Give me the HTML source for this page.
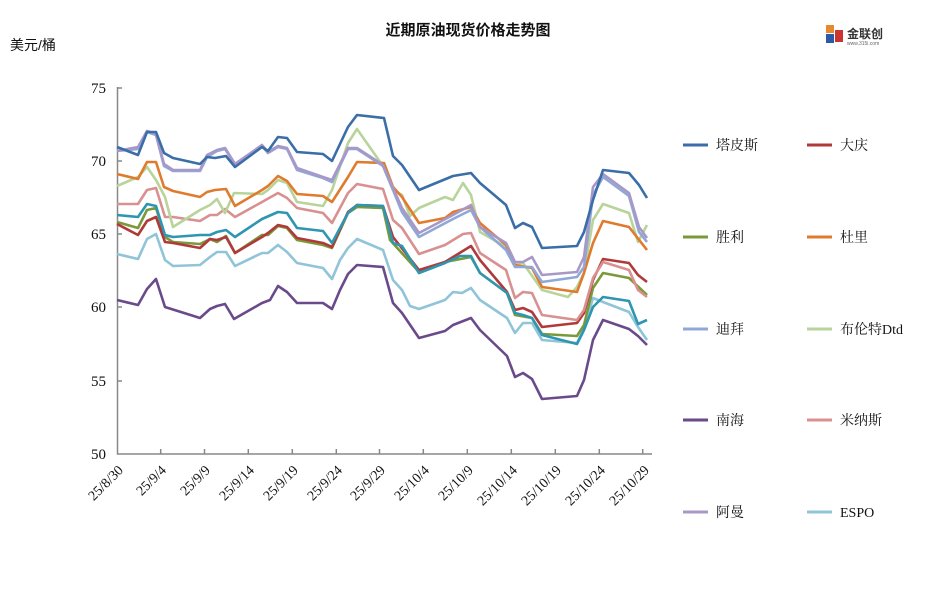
<!DOCTYPE html>
<html><head><meta charset="utf-8"><style>
html,body{margin:0;padding:0;background:#fff;}
svg{display:block;font-family:"Liberation Sans","Noto Sans CJK SC",sans-serif;}
.sf{font-family:"Liberation Serif","Noto Serif CJK SC",serif;}
</style></head><body>
<svg width="937" height="601" viewBox="0 0 937 601" xmlns="http://www.w3.org/2000/svg">
<rect width="937" height="601" fill="#fff"/>
<text x="468" y="35" text-anchor="middle" font-size="15" font-weight="bold" fill="#111">近期原油现货价格走势图</text>
<text x="10" y="50" font-size="14" fill="#111">美元/桶</text>
<g>
<rect x="826" y="25" width="8" height="8" fill="#e8892c"/>
<rect x="826" y="34" width="8" height="9" fill="#2b5aa8"/>
<rect x="835" y="30" width="8" height="12" fill="#c33"/>
<text x="847" y="38" font-size="12" font-weight="bold" fill="#333">金联创</text>
<text x="847" y="45" font-size="5" fill="#666">www.315i.com</text>
</g>
<g stroke="#888" stroke-width="1.5" fill="none">
<path d="M117.5 87 V454 H652"/>
<path d="M117 88 h5 M117 161 h5 M117 234 h5 M117 307 h5 M117 381 h5"/>
<path d="M160.7 454 v-5 M204.5 454 v-5 M248.3 454 v-5 M292.3 454 v-5 M336.3 454 v-5 M379.5 454 v-5 M423.3 454 v-5 M467.3 454 v-5 M511.3 454 v-5 M555.3 454 v-5 M599.3 454 v-5 M642.7 454 v-5"/>
</g>
<g class="sf" font-size="15" fill="#111" text-anchor="end">
<text x="106" y="93">75</text><text x="106" y="166">70</text><text x="106" y="239">65</text>
<text x="106" y="312">60</text><text x="106" y="386">55</text><text x="106" y="459">50</text>
</g>
<g class="sf" font-size="14" fill="#111" text-anchor="end">
<text transform="translate(124,471) rotate(-45)">25/8/30</text>
<text transform="translate(167,471) rotate(-45)">25/9/4</text>
<text transform="translate(211,471) rotate(-45)">25/9/9</text>
<text transform="translate(255,471) rotate(-45)">25/9/14</text>
<text transform="translate(299,471) rotate(-45)">25/9/19</text>
<text transform="translate(343,471) rotate(-45)">25/9/24</text>
<text transform="translate(386,471) rotate(-45)">25/9/29</text>
<text transform="translate(430,471) rotate(-45)">25/10/4</text>
<text transform="translate(474,471) rotate(-45)">25/10/9</text>
<text transform="translate(518,471) rotate(-45)">25/10/14</text>
<text transform="translate(562,471) rotate(-45)">25/10/19</text>
<text transform="translate(606,471) rotate(-45)">25/10/24</text>
<text transform="translate(650,471) rotate(-45)">25/10/29</text>
</g>
<g fill="none" stroke-width="2.6" stroke-linejoin="round">
<polyline stroke="#6a4a8a" points="117,300 138,305 147,289 156,279 165,307 200,318 210,309 217,306 225,304 234,319 262,303 270,300 278,286 287,292 297,303 323,303 332,309 340,290 348,274 357,265 383,267 393,303 402,313 419,338 445,331 453,325 471,318 480,330 507,356 515,377 523,373 532,379 542,399 577,396 584,380 593,340 603,320 629,329 638,336 647,345"/>
<polyline stroke="#90c4d8" points="117,254 138,259 147,239 156,234 165,260 173,266 200,265 210,257 217,252 226,252 235,266 262,253 268,253 278,245 287,252 297,263 323,268 332,279 340,260 348,248 357,239 383,250 393,280 402,290 410,306 419,309 445,300 453,292 462,293 471,288 480,300 507,318 515,333 523,323 532,323 542,340 577,343 584,329 593,298 603,302 629,312 638,327 647,340"/>
<polyline stroke="#7a9a3a" points="117,222 138,228 147,210 156,208 165,237 173,242 200,244 210,239 217,242 226,236 235,253 262,235 268,235 278,226 287,228 297,240 323,245 332,248 348,213 357,207 383,208 390,240 419,272 445,262 471,257 480,273 507,293 515,315 532,318 542,334 577,336 584,325 593,288 603,273 629,278 647,295"/>
<polyline stroke="#b03a3a" points="117,224 138,235 147,221 156,217 165,242 173,243 200,248 210,239 217,240 226,237 235,253 262,237 268,233 278,225 287,227 297,238 323,243 332,247 348,212 357,205 383,206 393,237 419,270 445,262 471,246 480,260 507,292 515,310 523,308 532,312 542,327 577,323 584,313 593,280 603,259 629,263 638,275 647,282"/>
<polyline stroke="#2e96b0" points="117,215 138,217 147,204 156,206 165,235 173,237 200,235 210,235 217,232 226,230 235,237 262,219 278,212 287,213 297,228 323,231 332,243 348,213 357,205 383,206 393,243 402,246 419,273 445,263 460,256 471,256 480,273 507,293 515,313 523,315 532,318 542,335 577,344 584,330 593,307 603,297 629,301 638,324 647,320"/>
<polyline stroke="#d99090" points="117,204 138,204 147,190 156,188 165,217 173,217 200,221 210,215 217,215 225,209 235,217 262,202 278,193 287,198 297,208 323,213 332,223 348,193 357,184 383,189 393,220 402,228 419,254 445,245 463,234 471,233 480,253 506,270 515,298 523,292 532,293 542,315 577,320 584,310 593,278 603,262 629,270 638,290 647,297"/>
<polyline stroke="#b8d49a" points="117,186 138,177 147,167 156,180 165,197 173,227 200,210 210,205 217,199 225,213 234,193 262,194 268,190 278,180 287,183 297,202 323,206 332,190 348,143 357,129 383,166 393,190 402,195 410,216 419,208 445,197 453,200 463,183 471,195 480,232 506,247 515,265 523,263 542,290 568,297 577,287 584,273 593,220 603,204 629,213 638,242 647,225"/>
<polyline stroke="#e07b2e" points="117,174 138,179 147,162 156,162 164,187 173,191 200,197 207,192 215,190 226,189 235,206 262,190 268,186 278,176 287,181 297,194 323,196 332,202 348,177 357,162 384,163 393,187 402,197 419,223 445,218 453,212 471,207 480,223 506,245 515,265 532,268 542,287 577,292 584,273 593,243 603,221 629,227 647,250"/>
<polyline stroke="#8fa8d8" points="117,151 138,149 147,132 156,135 164,166 173,171 200,171 207,157 217,151 225,149 235,164 262,146 268,153 278,147 287,149 297,170 323,178 332,182 348,149 357,149 383,166 393,190 402,212 419,237 453,219 471,210 480,227 506,250 515,267 532,267 542,282 577,277 584,267 593,195 603,177 629,196 639,232 647,242"/>
<polyline stroke="#a898c8" points="117,151 138,147 147,131 156,134 164,164 173,170 200,170 207,155 217,150 225,148 235,164 262,145 268,152 278,146 287,148 297,168 323,177 332,180 348,148 357,148 383,165 393,188 402,208 419,233 453,215 471,205 480,227 506,243 515,262 523,262 532,257 542,275 577,272 584,257 593,187 603,174 629,193 639,227 647,238"/>
<polyline stroke="#3a6ea8" points="117,147 138,155 147,132 156,132 164,153 173,158 200,164 207,157 215,158 226,156 235,167 262,147 268,151 278,137 287,138 297,152 323,154 332,161 348,127 357,115 384,118 393,156 402,165 419,190 453,176 471,173 480,183 506,205 515,228 523,223 532,227 542,248 577,246 584,232 593,200 603,170 629,173 639,185 647,198"/>
</g>
<g stroke-width="3">
<line x1="683" y1="145" x2="708" y2="145" stroke="#3a6ea8"/>
<line x1="807" y1="145" x2="832" y2="145" stroke="#b03a3a"/>
<line x1="683" y1="237" x2="708" y2="237" stroke="#7a9a3a"/>
<line x1="807" y1="237" x2="832" y2="237" stroke="#e07b2e"/>
<line x1="683" y1="329" x2="708" y2="329" stroke="#8fa8d8"/>
<line x1="807" y1="329" x2="832" y2="329" stroke="#b8d49a"/>
<line x1="683" y1="420" x2="708" y2="420" stroke="#6a4a8a"/>
<line x1="807" y1="420" x2="832" y2="420" stroke="#d99090"/>
<line x1="683" y1="512" x2="708" y2="512" stroke="#a898c8"/>
<line x1="807" y1="512" x2="832" y2="512" stroke="#90c4d8"/>
</g>
<g font-size="14" fill="#111" class="sf">
<text x="716" y="150">塔皮斯</text><text x="840" y="150">大庆</text>
<text x="716" y="242">胜利</text><text x="840" y="242">杜里</text>
<text x="716" y="334">迪拜</text><text x="840" y="334">布伦特Dtd</text>
<text x="716" y="425">南海</text><text x="840" y="425">米纳斯</text>
<text x="716" y="517">阿曼</text><text x="840" y="517">ESPO</text>
</g>
</svg>
</body></html>
